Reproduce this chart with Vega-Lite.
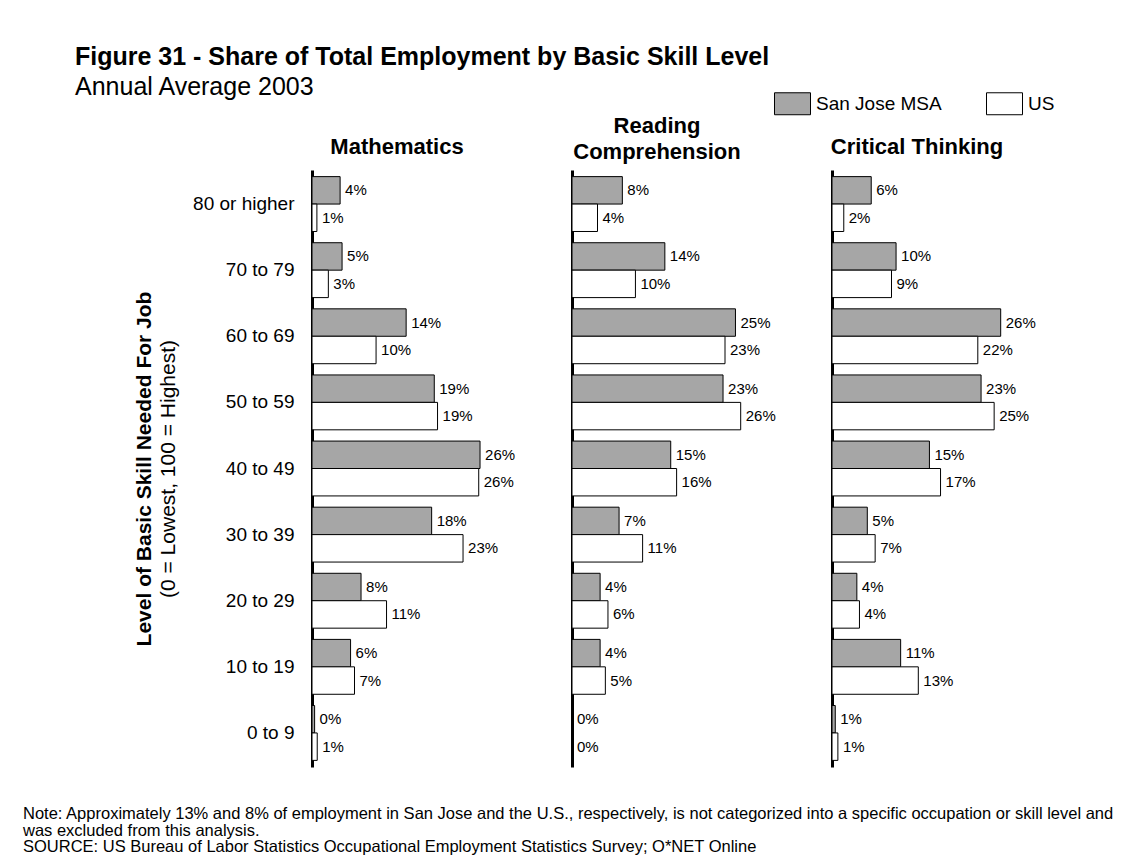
{
  "$schema": "https://vega.github.io/schema/vega-lite/v6.json",
  "background": "white",
  "padding": {"left": 23, "top": 45, "right": 5, "bottom": 5},
  "title": {
    "text": "Figure 31 - Share of Total Employment by Basic Skill Level",
    "subtitle": "Annual Average 2003",
    "anchor": "start",
    "frame": "bounds",
    "dx": 52,
    "fontSize": 25,
    "fontWeight": "bold",
    "subtitleFontSize": 25,
    "subtitleFont": "Liberation Sans",
    "subtitleColor": "black",
    "subtitlePadding": 5,
    "offset": -15
  },
  "data": {
    "values": [
      {"skill": "Mathematics", "level": "80 or higher", "series": "San Jose MSA", "value": 0.043, "label": "4%"},
      {"skill": "Mathematics", "level": "80 or higher", "series": "US", "value": 0.0075, "label": "1%"},
      {"skill": "Mathematics", "level": "70 to 79", "series": "San Jose MSA", "value": 0.046, "label": "5%"},
      {"skill": "Mathematics", "level": "70 to 79", "series": "US", "value": 0.025, "label": "3%"},
      {"skill": "Mathematics", "level": "60 to 69", "series": "San Jose MSA", "value": 0.144, "label": "14%"},
      {"skill": "Mathematics", "level": "60 to 69", "series": "US", "value": 0.098, "label": "10%"},
      {"skill": "Mathematics", "level": "50 to 59", "series": "San Jose MSA", "value": 0.187, "label": "19%"},
      {"skill": "Mathematics", "level": "50 to 59", "series": "US", "value": 0.192, "label": "19%"},
      {"skill": "Mathematics", "level": "40 to 49", "series": "San Jose MSA", "value": 0.257, "label": "26%"},
      {"skill": "Mathematics", "level": "40 to 49", "series": "US", "value": 0.255, "label": "26%"},
      {"skill": "Mathematics", "level": "30 to 39", "series": "San Jose MSA", "value": 0.183, "label": "18%"},
      {"skill": "Mathematics", "level": "30 to 39", "series": "US", "value": 0.231, "label": "23%"},
      {"skill": "Mathematics", "level": "20 to 29", "series": "San Jose MSA", "value": 0.075, "label": "8%"},
      {"skill": "Mathematics", "level": "20 to 29", "series": "US", "value": 0.114, "label": "11%"},
      {"skill": "Mathematics", "level": "10 to 19", "series": "San Jose MSA", "value": 0.059, "label": "6%"},
      {"skill": "Mathematics", "level": "10 to 19", "series": "US", "value": 0.065, "label": "7%"},
      {"skill": "Mathematics", "level": "0 to 9", "series": "San Jose MSA", "value": 0.004, "label": "0%"},
      {"skill": "Mathematics", "level": "0 to 9", "series": "US", "value": 0.008, "label": "1%"},
      {"skill": "Reading", "level": "80 or higher", "series": "San Jose MSA", "value": 0.077, "label": "8%"},
      {"skill": "Reading", "level": "80 or higher", "series": "US", "value": 0.039, "label": "4%"},
      {"skill": "Reading", "level": "70 to 79", "series": "San Jose MSA", "value": 0.142, "label": "14%"},
      {"skill": "Reading", "level": "70 to 79", "series": "US", "value": 0.097, "label": "10%"},
      {"skill": "Reading", "level": "60 to 69", "series": "San Jose MSA", "value": 0.25, "label": "25%"},
      {"skill": "Reading", "level": "60 to 69", "series": "US", "value": 0.234, "label": "23%"},
      {"skill": "Reading", "level": "50 to 59", "series": "San Jose MSA", "value": 0.231, "label": "23%"},
      {"skill": "Reading", "level": "50 to 59", "series": "US", "value": 0.258, "label": "26%"},
      {"skill": "Reading", "level": "40 to 49", "series": "San Jose MSA", "value": 0.151, "label": "15%"},
      {"skill": "Reading", "level": "40 to 49", "series": "US", "value": 0.16, "label": "16%"},
      {"skill": "Reading", "level": "30 to 39", "series": "San Jose MSA", "value": 0.072, "label": "7%"},
      {"skill": "Reading", "level": "30 to 39", "series": "US", "value": 0.108, "label": "11%"},
      {"skill": "Reading", "level": "20 to 29", "series": "San Jose MSA", "value": 0.043, "label": "4%"},
      {"skill": "Reading", "level": "20 to 29", "series": "US", "value": 0.055, "label": "6%"},
      {"skill": "Reading", "level": "10 to 19", "series": "San Jose MSA", "value": 0.043, "label": "4%"},
      {"skill": "Reading", "level": "10 to 19", "series": "US", "value": 0.051, "label": "5%"},
      {"skill": "Reading", "level": "0 to 9", "series": "San Jose MSA", "value": 0, "label": "0%"},
      {"skill": "Reading", "level": "0 to 9", "series": "US", "value": 0, "label": "0%"},
      {"skill": "Critical", "level": "80 or higher", "series": "San Jose MSA", "value": 0.06, "label": "6%"},
      {"skill": "Critical", "level": "80 or higher", "series": "US", "value": 0.018, "label": "2%"},
      {"skill": "Critical", "level": "70 to 79", "series": "San Jose MSA", "value": 0.098, "label": "10%"},
      {"skill": "Critical", "level": "70 to 79", "series": "US", "value": 0.091, "label": "9%"},
      {"skill": "Critical", "level": "60 to 69", "series": "San Jose MSA", "value": 0.258, "label": "26%"},
      {"skill": "Critical", "level": "60 to 69", "series": "US", "value": 0.223, "label": "22%"},
      {"skill": "Critical", "level": "50 to 59", "series": "San Jose MSA", "value": 0.228, "label": "23%"},
      {"skill": "Critical", "level": "50 to 59", "series": "US", "value": 0.248, "label": "25%"},
      {"skill": "Critical", "level": "40 to 49", "series": "San Jose MSA", "value": 0.149, "label": "15%"},
      {"skill": "Critical", "level": "40 to 49", "series": "US", "value": 0.166, "label": "17%"},
      {"skill": "Critical", "level": "30 to 39", "series": "San Jose MSA", "value": 0.054, "label": "5%"},
      {"skill": "Critical", "level": "30 to 39", "series": "US", "value": 0.066, "label": "7%"},
      {"skill": "Critical", "level": "20 to 29", "series": "San Jose MSA", "value": 0.038, "label": "4%"},
      {"skill": "Critical", "level": "20 to 29", "series": "US", "value": 0.042, "label": "4%"},
      {"skill": "Critical", "level": "10 to 19", "series": "San Jose MSA", "value": 0.105, "label": "11%"},
      {"skill": "Critical", "level": "10 to 19", "series": "US", "value": 0.132, "label": "13%"},
      {"skill": "Critical", "level": "0 to 9", "series": "San Jose MSA", "value": 0.005, "label": "1%"},
      {"skill": "Critical", "level": "0 to 9", "series": "US", "value": 0.009, "label": "1%"}
    ]
  },
  "vconcat": [
    {
      "title": {
        "text": [
          "Note: Approximately 13% and 8% of employment in San Jose and the U.S., respectively, is not categorized into a specific occupation or skill level and",
          "was excluded from this analysis.",
          "SOURCE: US Bureau of Labor Statistics Occupational Employment Statistics Survey; O*NET Online"
        ],
        "orient": "bottom",
        "anchor": "start",
        "frame": "bounds",
        "dx": -110,
        "offset": 39,
        "fontSize": 16.5,
        "fontWeight": "normal",
        "lineHeight": 16.6
      },
      "bounds": "flush",
      "spacing": 90,
      "resolve": {"scale": {"y": "independent", "x": "independent"}},
      "hconcat": [
        {
          "title": {"text": "Mathematics", "anchor": "middle", "frame": "group", "offset": 11},
          "width": 170,
          "height": 597,
          "transform": [{"filter": "datum.skill === 'Mathematics'"}],
          "resolve": {"scale": {"y": "independent"}},
          "layer": [
            {
              "mark": {"type": "bar", "stroke": "black", "strokeWidth": 1, "opacity": 1},
              "encoding": {
                "y": {
                  "field": "level", "type": "nominal",
                  "sort": ["80 or higher", "70 to 79", "60 to 69", "50 to 59", "40 to 49", "30 to 39", "20 to 29", "10 to 19", "0 to 9"],
                  "scale": {"paddingInner": 0.17, "paddingOuter": 0.1},
                  "axis": {
                    "title": "(0 = Lowest, 100 = Highest)",
                    "titleFontWeight": "normal",
                    "titleFontSize": 21,
                    "titlePadding": 14,
                    "labelFontSize": 19,
                    "labelPadding": 18,
                    "ticks": false,
                    "domainColor": "black",
                    "domainWidth": 3
                  }
                },
                "yOffset": {"field": "series", "sort": ["San Jose MSA", "US"]},
                "x": {"field": "value", "type": "quantitative", "scale": {"domain": [0, 0.26]}, "axis": null},
                "color": {
                  "field": "series", "type": "nominal",
                  "scale": {"domain": ["San Jose MSA", "US"], "range": ["#a6a6a6", "#ffffff"]},
                  "legend": {
                    "title": null,
                    "orient": "none",
                    "legendX": 462,
                    "legendY": -85,
                    "direction": "horizontal",
                    "symbolType": "M-1,-0.61H1V0.61H-1Z",
                    "symbolSize": 1296,
                    "symbolStrokeColor": "black",
                    "symbolStrokeWidth": 1,
                    "symbolOpacity": 1,
                    "labelFontSize": 19,
                    "labelColor": "black",
                    "labelOffset": 5,
                    "columnPadding": 42
                  }
                }
              }
            },
            {
              "mark": {"type": "text", "align": "left", "baseline": "middle", "dx": 5, "fontSize": 15, "color": "black"},
              "encoding": {
                "y": {
                  "field": "level", "type": "nominal",
                  "sort": ["80 or higher", "70 to 79", "60 to 69", "50 to 59", "40 to 49", "30 to 39", "20 to 29", "10 to 19", "0 to 9"],
                  "scale": {"paddingInner": 0.17, "paddingOuter": 0.1},
                  "axis": {
                    "orient": "left",
                    "title": "Level of Basic Skill Needed For Job",
                    "titleFontWeight": "bold",
                    "titleFontSize": 21,
                    "titlePadding": 158,
                    "labels": false,
                    "ticks": false,
                    "domain": false
                  }
                },
                "yOffset": {"field": "series", "sort": ["San Jose MSA", "US"]},
                "x": {"field": "value", "type": "quantitative", "scale": {"domain": [0, 0.26]}, "axis": null},
                "text": {"field": "label"}
              }
            }
          ]
        },
        {
          "title": {"text": ["Reading", "Comprehension"], "anchor": "middle", "frame": "group", "offset": 6, "lineHeight": 26},
          "width": 170,
          "height": 597,
          "transform": [{"filter": "datum.skill === 'Reading'"}],
          "layer": [
            {
              "mark": {"type": "bar", "stroke": "black", "strokeWidth": 1, "opacity": 1},
              "encoding": {
                "y": {
                  "field": "level", "type": "nominal",
                  "sort": ["80 or higher", "70 to 79", "60 to 69", "50 to 59", "40 to 49", "30 to 39", "20 to 29", "10 to 19", "0 to 9"],
                  "scale": {"paddingInner": 0.17, "paddingOuter": 0.1},
                  "axis": {"title": null, "labels": false, "ticks": false, "domainColor": "black", "domainWidth": 3}
                },
                "yOffset": {"field": "series", "sort": ["San Jose MSA", "US"]},
                "x": {"field": "value", "type": "quantitative", "scale": {"domain": [0, 0.26]}, "axis": null},
                "color": {"field": "series", "type": "nominal", "scale": {"domain": ["San Jose MSA", "US"], "range": ["#a6a6a6", "#ffffff"]}}
              }
            },
            {
              "mark": {"type": "text", "align": "left", "baseline": "middle", "dx": 5, "fontSize": 15, "color": "black"},
              "encoding": {
                "y": {
                  "field": "level", "type": "nominal",
                  "sort": ["80 or higher", "70 to 79", "60 to 69", "50 to 59", "40 to 49", "30 to 39", "20 to 29", "10 to 19", "0 to 9"]
                },
                "yOffset": {"field": "series", "sort": ["San Jose MSA", "US"]},
                "x": {"field": "value", "type": "quantitative"},
                "text": {"field": "label"}
              }
            }
          ]
        },
        {
          "title": {"text": "Critical Thinking", "anchor": "middle", "frame": "group", "offset": 11},
          "width": 170,
          "height": 597,
          "transform": [{"filter": "datum.skill === 'Critical'"}],
          "layer": [
            {
              "mark": {"type": "bar", "stroke": "black", "strokeWidth": 1, "opacity": 1},
              "encoding": {
                "y": {
                  "field": "level", "type": "nominal",
                  "sort": ["80 or higher", "70 to 79", "60 to 69", "50 to 59", "40 to 49", "30 to 39", "20 to 29", "10 to 19", "0 to 9"],
                  "scale": {"paddingInner": 0.17, "paddingOuter": 0.1},
                  "axis": {"title": null, "labels": false, "ticks": false, "domainColor": "black", "domainWidth": 3}
                },
                "yOffset": {"field": "series", "sort": ["San Jose MSA", "US"]},
                "x": {"field": "value", "type": "quantitative", "scale": {"domain": [0, 0.26]}, "axis": null},
                "color": {"field": "series", "type": "nominal", "scale": {"domain": ["San Jose MSA", "US"], "range": ["#a6a6a6", "#ffffff"]}}
              }
            },
            {
              "mark": {"type": "text", "align": "left", "baseline": "middle", "dx": 5, "fontSize": 15, "color": "black"},
              "encoding": {
                "y": {
                  "field": "level", "type": "nominal",
                  "sort": ["80 or higher", "70 to 79", "60 to 69", "50 to 59", "40 to 49", "30 to 39", "20 to 29", "10 to 19", "0 to 9"]
                },
                "yOffset": {"field": "series", "sort": ["San Jose MSA", "US"]},
                "x": {"field": "value", "type": "quantitative"},
                "text": {"field": "label"}
              }
            }
          ]
        }
      ]
    }
  ],
  "config": {
    "font": "Liberation Sans",
    "view": {"stroke": null},
    "title": {"font": "Liberation Sans", "color": "black", "fontSize": 22, "fontWeight": "bold"},
    "axis": {"labelFont": "Liberation Sans", "titleFont": "Liberation Sans", "labelColor": "black", "titleColor": "black", "grid": false},
    "legend": {"labelFont": "Liberation Sans"},
    "text": {"font": "Liberation Sans"}
  }
}
